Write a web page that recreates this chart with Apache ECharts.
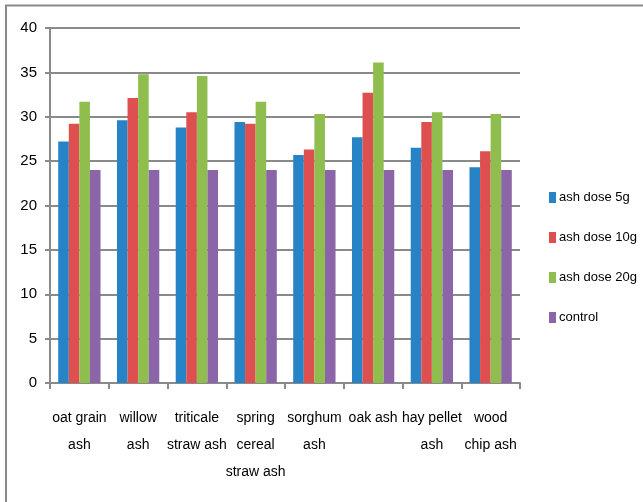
<!DOCTYPE html>
<html>
<head>
<meta charset="utf-8">
<script src="https://cdn.jsdelivr.net/npm/echarts@6/dist/echarts.min.js"></script>
<style>
  html, body { margin: 0; padding: 0; background: #fff; }
  #chart { width: 643px; height: 502px; }
</style>
</head>
<body>
<div id="chart"></div>
<script>
// Ash types (axis labels wrap the way they are shown under each group)
const categories = [
  'oat grain\nash', 'willow\nash', 'triticale\nstraw ash', 'spring\ncereal\nstraw ash',
  'sorghum\nash', 'oak ash', 'hay pellet\nash', 'wood\nchip ash'
];
const seriesNames = ['ash dose 5g', 'ash dose 10g', 'ash dose 20g', 'control'];
const dose5g  = [27.2, 29.6, 28.8, 29.4, 25.7, 27.7, 26.5, 24.3];
const dose10g = [29.2, 32.1, 30.5, 29.2, 26.3, 32.7, 29.4, 26.1];
const dose20g = [31.7, 34.8, 34.6, 31.7, 30.3, 36.1, 30.5, 30.3];
const control = [24.0, 24.0, 24.0, 24.0, 24.0, 24.0, 24.0, 24.0];
const yTicks = { min: 0, max: 40, interval: 5 };

const colors = ['#2683c6', '#de4f4f', '#8fbd4e', '#8b65a7'];
const font = "'Liberation Sans', Arial, sans-serif";
const gray = '#8a8a8a';

const chart = echarts.init(document.getElementById('chart'), null, { renderer: 'canvas' });

const values = [dose5g, dose10g, dose20g, control];

chart.setOption({
  animation: false,
  color: colors,
  textStyle: { fontFamily: font },
  graphic: [
    { type: 'line', shape: { x1: 5, y1: 5.5, x2: 643, y2: 5.5 }, style: { stroke: gray, lineWidth: 2 } },
    { type: 'line', shape: { x1: 6, y1: 5, x2: 6, y2: 502 }, style: { stroke: gray, lineWidth: 2 } }
  ],
  grid: { left: 50, right: 123, top: 28, bottom: 119 },
  legend: {
    orient: 'vertical',
    left: 544,
    top: 186,
    itemWidth: 7,
    itemHeight: 11,
    itemGap: 27,
    icon: 'rect',
    data: seriesNames,
    textStyle: { fontFamily: font, fontSize: 13, color: '#000', padding: [0, 0, 0, -2] }
  },
  xAxis: {
    type: 'category',
    data: categories,
    boundaryGap: true,
    axisLine: { lineStyle: { color: gray, width: 2 } },
    axisTick: { show: true, length: 6, lineStyle: { color: gray, width: 2 } },
    axisLabel: {
      interval: 0,
      margin: 22,
      fontFamily: font,
      fontSize: 14,
      lineHeight: 27,
      color: '#000',
      align: 'center'
    }
  },
  yAxis: {
    type: 'value',
    min: yTicks.min,
    max: yTicks.max,
    interval: yTicks.interval,
    axisLine: { show: true, lineStyle: { color: gray, width: 2 } },
    axisTick: { show: true, length: 5, lineStyle: { color: gray, width: 2 } },
    axisLabel: { margin: 13, fontFamily: font, fontSize: 15, color: '#000' },
    splitLine: { show: true, lineStyle: { color: gray, width: 2 } }
  },
  series: seriesNames.map((name, i) => ({
    name,
    type: 'bar',
    data: values[i],
    barGap: '0%',
    barCategoryGap: '28%',
    itemStyle: { color: colors[i] }
  }))
});
</script>
</body>
</html>
